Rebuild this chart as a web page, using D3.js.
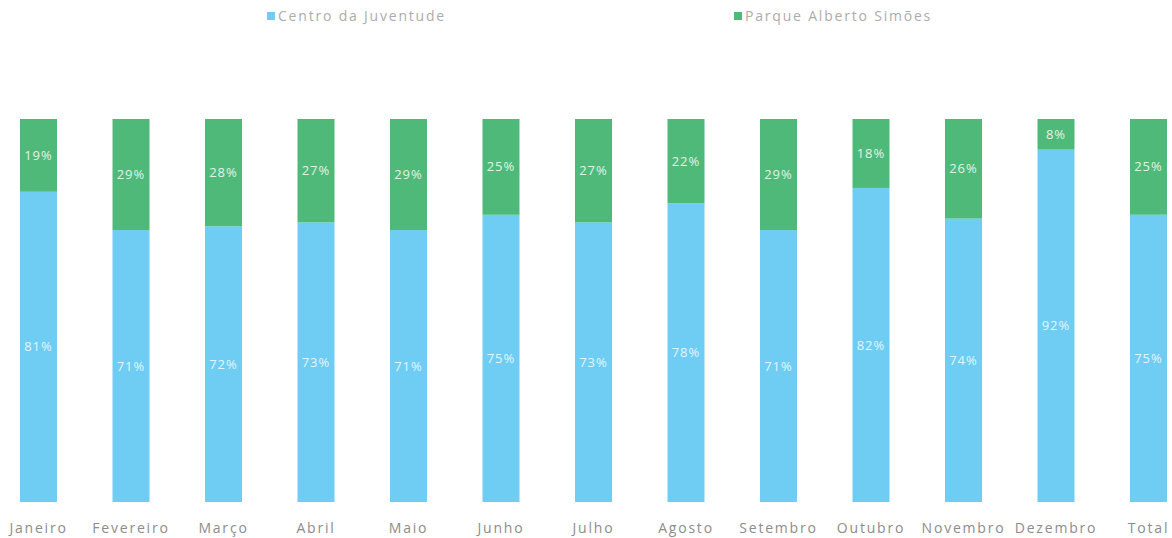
<!DOCTYPE html>
<html>
<head>
<meta charset="utf-8">
<script src="https://cdn.jsdelivr.net/npm/d3@7"></script>
<style>
  html, body { margin: 0; padding: 0; background: #ffffff; }
  svg { display: block; }
</style>
</head>
<body>
<svg id="chart" width="1172" height="538"></svg>
<script>
// Monthly share of visitors per site (percent)
const months = ["Janeiro", "Fevereiro", "Março", "Abril", "Maio", "Junho", "Julho",
                "Agosto", "Setembro", "Outubro", "Novembro", "Dezembro", "Total"];
const centroJuventude = [81, 71, 72, 73, 71, 75, 73, 78, 71, 82, 74, 92, 75];
const parqueAlberto   = [19, 29, 28, 27, 29, 25, 27, 22, 29, 18, 26, 8, 25];
const seriesNames = ["Centro da Juventude", "Parque Alberto Simões"];
const seriesColors = ["#6fcdf4", "#4fb97a"];

const svg = d3.select("#chart");

const x = d3.scaleBand()
  .domain(months)
  .range([-7.75, 1194.75])
  .paddingInner(0.6)
  .paddingOuter(0.3);

const y = d3.scaleLinear()
  .domain([0, 100])
  .range([502, 119]);

const rows = months.map((m, i) => ({ month: m, c: centroJuventude[i], p: parqueAlberto[i] }));

const g = svg.append("g");

// Lower segment: Centro da Juventude
g.selectAll("rect.centro")
  .data(rows)
  .join("rect")
  .attr("class", "centro")
  .attr("x", d => x(d.month))
  .attr("width", x.bandwidth())
  .attr("y", d => y(d.c))
  .attr("height", d => y(0) - y(d.c))
  .attr("fill", seriesColors[0]);

// Upper segment: Parque Alberto Simões
g.selectAll("rect.parque")
  .data(rows)
  .join("rect")
  .attr("class", "parque")
  .attr("x", d => x(d.month))
  .attr("width", x.bandwidth())
  .attr("y", d => y(d.c + d.p))
  .attr("height", d => y(d.c) - y(d.c + d.p))
  .attr("fill", seriesColors[1]);

const labelFont = "'Open Sans', 'DejaVu Sans', sans-serif";

// Value labels inside the segments
g.selectAll("text.lc")
  .data(rows)
  .join("text")
  .attr("class", "lc")
  .attr("x", d => x(d.month) + x.bandwidth() / 2)
  .attr("y", d => (y(0) + y(d.c)) / 2)
  .attr("dy", "0.35em")
  .attr("text-anchor", "middle")
  .attr("font-family", labelFont)
  .attr("font-size", 13)
  .attr("letter-spacing", "1px")
  .attr("fill", "#e3f5fd")
  .text(d => d.c + "%");

g.selectAll("text.lp")
  .data(rows)
  .join("text")
  .attr("class", "lp")
  .attr("x", d => x(d.month) + x.bandwidth() / 2)
  .attr("y", d => (y(d.c) + y(d.c + d.p)) / 2)
  .attr("dy", "0.35em")
  .attr("text-anchor", "middle")
  .attr("font-family", labelFont)
  .attr("font-size", 13)
  .attr("letter-spacing", "1px")
  .attr("fill", "#e2f3e6")
  .text(d => d.p + "%");

// Category axis
const xAxis = svg.append("g")
  .attr("transform", "translate(0,517)")
  .call(d3.axisBottom(x).tickSize(0).tickPadding(6));
xAxis.select(".domain").remove();
xAxis.selectAll("text")
  .attr("font-family", labelFont)
  .attr("font-size", 14)
  .attr("letter-spacing", "1.8px")
  .attr("fill", "#8c8c8c");

// Legend
const legendX = [267, 734];
const legend = svg.append("g");
seriesNames.forEach((name, i) => {
  legend.append("rect")
    .attr("x", legendX[i])
    .attr("y", 12)
    .attr("width", 8)
    .attr("height", 8)
    .attr("fill", seriesColors[i]);
  legend.append("text")
    .attr("x", legendX[i] + 11)
    .attr("y", 16)
    .attr("dy", "0.35em")
    .attr("font-family", labelFont)
    .attr("font-size", 14)
    .attr("letter-spacing", "1.8px")
    .attr("fill", "#acacac")
    .text(name);
});
</script>
</body>
</html>
